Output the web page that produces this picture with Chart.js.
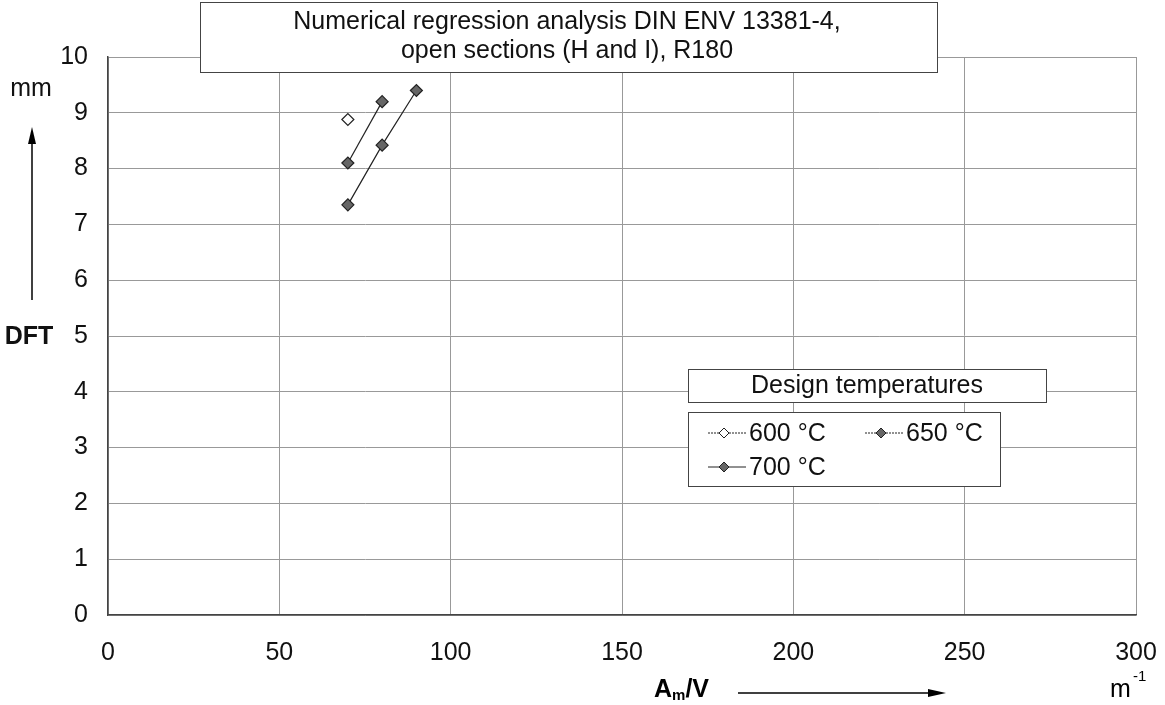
<!DOCTYPE html>
<html>
<head>
<meta charset="utf-8">
<script src="https://cdn.jsdelivr.net/npm/chart.js@4/dist/chart.umd.min.js"></script>
<style>
  html, body { margin: 0; padding: 0; background: #fff; }
  #wrap { width: 1165px; height: 705px; position: relative; }
</style>
</head>
<body>
<div id="wrap"><canvas id="c" width="1165" height="705"></canvas></div>
<script>
// Data
const xTicks = [0, 50, 100, 150, 200, 250, 300];
const yTicks = [0, 1, 2, 3, 4, 5, 6, 7, 8, 9, 10];

const x600 = [70];
const y600 = [8.88];

const x650 = [70, 80];
const y650 = [8.1, 9.2];

const x700 = [70, 80, 90];
const y700 = [7.35, 8.42, 9.4];

const FONT = '"Liberation Sans", Arial, Helvetica, sans-serif';
const FS = 25;

function toPoints(xs, ys) {
  return xs.map((x, i) => ({ x: x, y: ys[i] }));
}

function series(label, xs, ys, fill) {
  return {
    label: label,
    data: toPoints(xs, ys),
    showLine: xs.length > 1,
    borderColor: '#222',
    borderWidth: 1.2,
    pointStyle: 'rectRot',
    pointRadius: 6,
    pointBackgroundColor: fill,
    pointBorderColor: '#222',
    pointBorderWidth: 1.2
  };
}

// Title box, legend, axis annotations and arrows
const decorations = {
  id: 'decorations',
  afterDraw(chart) {
    const ctx = chart.ctx;
    ctx.save();

    // title box
    ctx.fillStyle = '#fff';
    ctx.fillRect(200, 2, 737, 70);
    ctx.strokeStyle = '#444';
    ctx.lineWidth = 1;
    ctx.strokeRect(200.5, 2.5, 737, 70);
    ctx.fillStyle = '#111';
    ctx.font = FS + 'px ' + FONT;
    ctx.textAlign = 'center';
    ctx.textBaseline = 'middle';
    ctx.fillText('Numerical regression analysis DIN ENV 13381-4,', 567, 22);
    ctx.fillText('open sections (H and I), R180', 567, 51);

    // legend title box
    ctx.fillStyle = '#fff';
    ctx.fillRect(688, 369, 358, 33);
    ctx.strokeRect(688.5, 369.5, 358, 33);
    ctx.fillStyle = '#111';
    ctx.fillText('Design temperatures', 867, 386);

    // legend box
    ctx.fillStyle = '#fff';
    ctx.fillRect(688, 412, 312, 74);
    ctx.strokeRect(688.5, 412.5, 312, 74);

    const items = [
      { label: '600 °C', x: 708, y: 433, fill: '#fff', dash: [2, 1] },
      { label: '650 °C', x: 865, y: 433, fill: '#666', dash: [2, 1] },
      { label: '700 °C', x: 708, y: 467, fill: '#666', dash: [] }
    ];
    items.forEach(it => {
      ctx.strokeStyle = '#222';
      ctx.lineWidth = 1;
      ctx.setLineDash(it.dash);
      ctx.beginPath();
      ctx.moveTo(it.x, it.y);
      ctx.lineTo(it.x + 38, it.y);
      ctx.stroke();
      ctx.setLineDash([]);
      ctx.beginPath();
      ctx.moveTo(it.x + 16, it.y - 5);
      ctx.lineTo(it.x + 21, it.y);
      ctx.lineTo(it.x + 16, it.y + 5);
      ctx.lineTo(it.x + 11, it.y);
      ctx.closePath();
      ctx.fillStyle = it.fill;
      ctx.fill();
      ctx.stroke();
      ctx.fillStyle = '#111';
      ctx.textAlign = 'left';
      ctx.fillText(it.label, it.x + 41, it.y + 1);
    });

    // y axis annotation
    ctx.textAlign = 'center';
    ctx.fillText('mm', 31, 89);
    ctx.font = 'bold ' + FS + 'px ' + FONT;
    ctx.fillText('DFT', 29, 337);

    ctx.strokeStyle = '#000';
    ctx.fillStyle = '#000';
    ctx.lineWidth = 1.5;
    ctx.beginPath();
    ctx.moveTo(32, 300);
    ctx.lineTo(32, 140);
    ctx.stroke();
    ctx.beginPath();
    ctx.moveTo(32, 127);
    ctx.lineTo(28, 144);
    ctx.lineTo(36, 144);
    ctx.closePath();
    ctx.fill();

    // x axis annotation
    const ax = 654;
    ctx.font = 'bold ' + FS + 'px ' + FONT;
    ctx.textAlign = 'left';
    ctx.fillText('A', ax, 690);
    const aw = ctx.measureText('A').width;
    ctx.font = 'bold 15px ' + FONT;
    ctx.fillText('m', ax + aw, 696);
    const mw = ctx.measureText('m').width;
    ctx.font = 'bold ' + FS + 'px ' + FONT;
    ctx.fillText('/V', ax + aw + mw, 690);

    ctx.beginPath();
    ctx.moveTo(738, 693);
    ctx.lineTo(930, 693);
    ctx.stroke();
    ctx.beginPath();
    ctx.moveTo(946, 693);
    ctx.lineTo(928, 689);
    ctx.lineTo(928, 697);
    ctx.closePath();
    ctx.fill();

    ctx.font = FS + 'px ' + FONT;
    ctx.fillText('m', 1110, 690);
    ctx.font = '15px ' + FONT;
    ctx.fillText('-1', 1133, 677);

    ctx.restore();
  }
};

new Chart(document.getElementById('c'), {
  type: 'scatter',
  data: {
    datasets: [
      series('600 °C', x600, y600, '#fff'),
      series('650 °C', x650, y650, '#666'),
      series('700 °C', x700, y700, '#666')
    ]
  },
  options: {
    responsive: false,
    animation: false,
    layout: { padding: { left: 0, right: 29, top: 57, bottom: 0 } },
    plugins: {
      legend: { display: false },
      tooltip: { enabled: false },
      title: { display: false }
    },
    scales: {
      x: {
        type: 'linear',
        min: 0,
        max: 300,
        afterBuildTicks(scale) { scale.ticks = xTicks.map(v => ({ value: v })); },
        afterFit(scale) {
          scale.height = 90;
          // keep the plot edge fixed; labels may overhang the padding
          scale.paddingLeft = 0;
          scale.paddingRight = 0;
        },
        ticks: {
          color: '#111',
          font: { family: FONT, size: FS },
          padding: 23,
          maxRotation: 0
        },
        grid: { color: '#999', lineWidth: 1, drawTicks: false },
        border: { color: '#444', width: 1.5 }
      },
      y: {
        type: 'linear',
        min: 0,
        max: 10,
        afterBuildTicks(scale) { scale.ticks = yTicks.map(v => ({ value: v })); },
        afterFit(scale) { scale.width = 108; },
        ticks: {
          color: '#111',
          font: { family: FONT, size: FS },
          padding: 20
        },
        grid: { color: '#999', lineWidth: 1, drawTicks: false },
        border: { color: '#444', width: 1.5 }
      }
    }
  },
  plugins: [decorations]
});
</script>
</body>
</html>
